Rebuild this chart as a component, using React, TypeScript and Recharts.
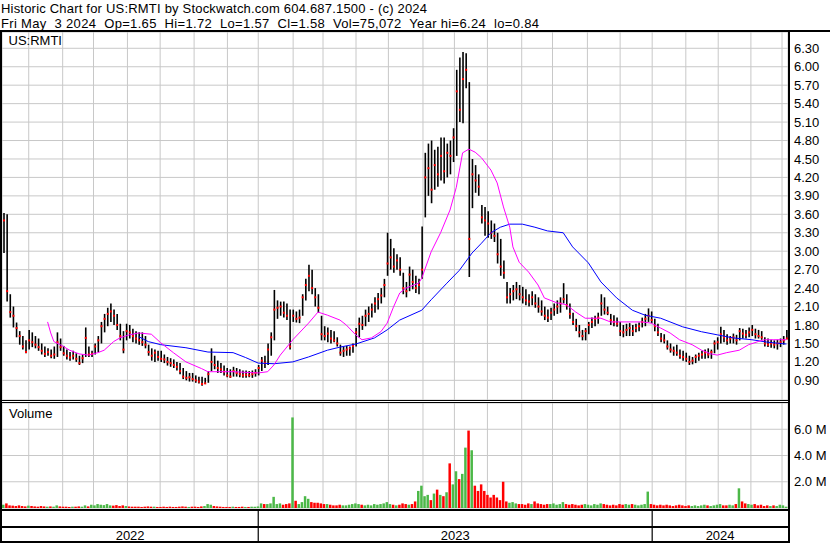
import React from "react";
import {
	ComposedChart,
	Bar,
	Line,
	XAxis,
	YAxis,
	CartesianGrid,
	Cell,
} from "recharts";

// one row = two trading days, May 2022 .. May 3 2024
const high = [
	3.62, 3.6, 2.3, 2.1, 1.84, 1.7, 1.62, 1.55, 1.72, 1.68,
	1.62, 1.58, 1.5, 1.45, 1.42, 1.4, 1.45, 1.68, 1.58, 1.46,
	1.4, 1.36, 1.38, 1.34, 1.3, 1.32, 1.76, 1.45, 1.38, 1.5,
	1.62, 1.85, 1.98, 2.08, 2.15, 2.05, 1.98, 1.82, 1.7, 1.82,
	1.8, 1.74, 1.7, 1.68, 1.68, 1.62, 1.48, 1.42, 1.4, 1.38,
	1.38, 1.32, 1.28, 1.26, 1.24, 1.2, 1.18, 1.1, 1.05, 1.02,
	1.02, 0.98, 0.96, 0.96, 0.94, 1.05, 1.42, 1.3, 1.22, 1.18,
	1.14, 1.1, 1.08, 1.12, 1.1, 1.08, 1.06, 1.06, 1.05, 1.06,
	1.08, 1.15, 1.28, 1.3, 1.5, 1.68, 2.37, 2.2, 2.18, 2.18,
	2.15, 2.05, 2.05, 2.02, 2.05, 2.3, 2.55, 2.78, 2.7, 2.4,
	2.3, 1.95, 1.78, 1.76, 1.72, 1.7, 1.6, 1.48, 1.45, 1.46,
	1.45, 1.5, 1.75, 1.92, 1.95, 2.05, 2.1, 2.15, 2.25, 2.32,
	2.4, 2.55, 3.3, 3.2, 3.05, 2.95, 2.9, 2.65, 2.5, 2.75,
	2.7, 2.6, 2.55, 3.4, 4.6, 4.75, 4.8, 4.65, 4.7, 4.85,
	4.85, 4.75, 4.8, 5.0, 5.95, 6.15, 6.24, 6.22, 5.75, 4.5,
	4.4, 4.25, 3.75, 3.72, 3.65, 3.5, 3.45, 3.3, 3.2, 2.85,
	2.5, 2.4, 2.45, 2.5, 2.45, 2.42, 2.38, 2.3, 2.35, 2.3,
	2.25, 2.2, 2.1, 2.05, 2.08, 2.15, 2.2, 2.25, 2.48, 2.3,
	2.15, 2.0, 1.9, 1.8, 1.72, 1.75, 1.85, 1.92, 1.95, 2.0,
	2.3, 2.25, 2.1, 1.98, 1.96, 1.92, 1.85, 1.8, 1.82, 1.83,
	1.8, 1.82, 1.84, 1.92, 1.98, 2.07, 2.02, 1.9, 1.82, 1.67,
	1.65, 1.55, 1.5, 1.45, 1.48, 1.4, 1.38, 1.35, 1.3, 1.28,
	1.32, 1.35, 1.38, 1.4, 1.42, 1.4, 1.55, 1.6, 1.77, 1.72,
	1.65, 1.62, 1.66, 1.64, 1.75, 1.74, 1.72, 1.76, 1.8, 1.74,
	1.72, 1.7, 1.6, 1.58, 1.56, 1.55, 1.56, 1.58, 1.62, 1.72,
];

const low = [
	2.97, 2.18, 1.92, 1.76, 1.6, 1.48, 1.4, 1.34, 1.4, 1.44,
	1.42, 1.38, 1.32, 1.28, 1.3, 1.26, 1.25, 1.28, 1.38, 1.3,
	1.24, 1.22, 1.24, 1.2, 1.15, 1.18, 1.28, 1.28, 1.28, 1.32,
	1.36, 1.5, 1.68, 1.78, 1.85, 1.8, 1.72, 1.55, 1.34, 1.55,
	1.58, 1.52, 1.5, 1.48, 1.46, 1.42, 1.3, 1.22, 1.2, 1.22,
	1.2, 1.18, 1.14, 1.12, 1.1, 1.06, 1.0, 0.92, 0.9, 0.88,
	0.88, 0.86, 0.85, 0.81, 0.84, 0.86, 1.05, 1.08, 1.02, 1.02,
	0.98, 0.95, 0.94, 0.96, 0.96, 0.95, 0.94, 0.94, 0.95, 0.94,
	0.96, 0.98, 1.05, 1.1, 1.15, 1.3, 1.55, 1.9, 1.95, 1.92,
	1.88, 1.4, 1.85, 1.84, 1.83, 1.95, 2.2, 2.35, 2.3, 2.1,
	2.0, 1.55, 1.55, 1.52, 1.5, 1.52, 1.45, 1.3, 1.28, 1.3,
	1.3, 1.35, 1.45, 1.6, 1.72, 1.78, 1.85, 1.92, 2.0, 2.05,
	2.15, 2.25, 2.6, 2.7, 2.65, 2.7, 2.6, 2.3, 2.25, 2.35,
	2.38, 2.32, 2.3, 2.55, 3.55, 3.9, 3.78, 4.0, 4.05, 4.15,
	4.1, 4.2, 4.25, 4.45, 4.55, 5.1, 5.08, 5.65, 2.58, 3.7,
	3.95, 3.9, 3.45, 3.25, 3.22, 3.2, 3.15, 2.8, 2.6, 2.55,
	2.15, 2.15, 2.2, 2.22, 2.2, 2.15, 2.12, 2.1, 2.12, 2.08,
	2.0, 1.95, 1.88, 1.85, 1.88, 1.95, 1.98, 2.0, 2.15, 2.05,
	1.9, 1.8, 1.7, 1.6, 1.55, 1.55, 1.65, 1.75, 1.78, 1.82,
	1.95, 1.97, 1.96, 1.8, 1.78, 1.77, 1.62, 1.6, 1.62, 1.62,
	1.62, 1.68, 1.7, 1.76, 1.78, 1.85, 1.83, 1.7, 1.62, 1.52,
	1.5, 1.4, 1.35, 1.3, 1.3, 1.25, 1.22, 1.2, 1.15, 1.16,
	1.18, 1.22, 1.25, 1.25, 1.26, 1.25, 1.34, 1.4, 1.5, 1.52,
	1.48, 1.5, 1.5, 1.48, 1.55, 1.58, 1.58, 1.6, 1.62, 1.58,
	1.58, 1.56, 1.45, 1.44, 1.43, 1.42, 1.4, 1.44, 1.48, 1.57,
];

const close = [
	3.5, 2.35, 2.01, 1.95, 1.75, 1.62, 1.45, 1.36, 1.55, 1.52,
	1.48, 1.44, 1.38, 1.33, 1.36, 1.3, 1.32, 1.52, 1.44, 1.34,
	1.3, 1.27, 1.3, 1.25, 1.18, 1.26, 1.59, 1.32, 1.33, 1.45,
	1.55, 1.78, 1.9, 1.98, 2.02, 1.95, 1.8, 1.62, 1.4, 1.7,
	1.68, 1.62, 1.58, 1.55, 1.52, 1.48, 1.36, 1.3, 1.35, 1.28,
	1.25, 1.24, 1.2, 1.18, 1.15, 1.12, 1.05, 0.96, 0.94, 0.95,
	0.92, 0.9, 0.88, 0.84, 0.85, 1.0, 1.2, 1.15, 1.1, 1.08,
	1.04, 0.98, 0.96, 1.05, 1.02, 1.0, 0.98, 0.99, 0.98, 1.0,
	1.02, 1.1, 1.22, 1.18, 1.4, 1.6, 2.05, 2.08, 2.1, 2.0,
	1.95, 1.45, 1.95, 1.9, 1.92, 2.25, 2.45, 2.6, 2.4, 2.25,
	2.08, 1.65, 1.62, 1.66, 1.58, 1.55, 1.5, 1.35, 1.38, 1.4,
	1.42, 1.46, 1.68, 1.82, 1.8, 1.95, 1.98, 2.05, 2.15, 2.22,
	2.28, 2.45, 2.8, 2.9, 2.75, 2.85, 2.7, 2.4, 2.35, 2.62,
	2.5, 2.4, 2.45, 2.7, 4.2, 4.35, 4.0, 4.4, 4.25, 4.55,
	4.3, 4.6, 4.55, 4.85, 5.6, 5.3, 5.8, 5.95, 3.2, 4.25,
	4.15, 4.05, 3.55, 3.5, 3.45, 3.3, 3.25, 2.95, 2.75, 2.65,
	2.25, 2.3, 2.35, 2.38, 2.3, 2.25, 2.2, 2.18, 2.25, 2.15,
	2.1, 2.02, 1.95, 1.92, 2.0, 2.05, 2.1, 2.15, 2.22, 2.12,
	1.98, 1.85, 1.78, 1.68, 1.62, 1.7, 1.8, 1.85, 1.9, 1.92,
	2.15, 2.05, 2.0, 1.88, 1.85, 1.82, 1.7, 1.68, 1.72, 1.75,
	1.7, 1.75, 1.78, 1.85, 1.9, 1.95, 1.88, 1.78, 1.68, 1.58,
	1.55, 1.45, 1.4, 1.38, 1.35, 1.3, 1.28, 1.25, 1.2, 1.22,
	1.28, 1.3, 1.32, 1.35, 1.32, 1.36, 1.5, 1.52, 1.65, 1.6,
	1.55, 1.58, 1.6, 1.55, 1.7, 1.66, 1.64, 1.68, 1.72, 1.65,
	1.62, 1.6, 1.5, 1.48, 1.5, 1.48, 1.5, 1.52, 1.55, 1.58,
];

// volume, millions of shares
const volume = [
	0.25, 0.35, 0.2, 0.18, 0.15, 0.2, 0.15, 0.12, 0.18, 0.15,
	0.12, 0.1, 0.15, 0.12, 0.1, 0.12, 0.1, 0.2, 0.12, 0.1,
	0.1, 0.08, 0.1, 0.1, 0.12, 0.1, 0.2, 0.12, 0.25, 0.2,
	0.3, 0.25, 0.22, 0.3, 0.2, 0.18, 0.22, 0.15, 0.2, 0.15,
	0.12, 0.1, 0.1, 0.1, 0.08, 0.1, 0.12, 0.1, 0.1, 0.08,
	0.08, 0.1, 0.08, 0.1, 0.08, 0.08, 0.1, 0.12, 0.1, 0.08,
	0.1, 0.1, 0.08, 0.12, 0.15, 0.3, 0.25, 0.15, 0.12, 0.1,
	0.08, 0.08, 0.08, 0.1, 0.08, 0.08, 0.1, 0.08, 0.08, 0.1,
	0.1, 0.12, 0.35, 0.3, 0.3, 0.35, 0.85, 0.3, 0.35, 0.25,
	0.3, 0.35, 6.9, 0.55, 0.3, 0.45, 0.9, 0.7, 0.45, 0.4,
	0.4, 0.35, 0.3, 0.3, 0.25, 0.2, 0.2, 0.25, 0.2, 0.2,
	0.25, 0.3, 0.35, 0.3, 0.25, 0.2, 0.25, 0.2, 0.3, 0.25,
	0.3, 0.35, 0.45, 0.3, 0.25, 0.2, 0.25, 0.35, 0.3, 0.25,
	0.3, 0.5, 1.3, 1.7, 0.9, 1.0, 0.6, 1.1, 1.4, 1.0,
	0.9, 1.2, 3.4, 1.8, 2.8, 2.2, 2.6, 4.6, 5.9, 4.4,
	1.7, 1.3, 1.8, 1.3, 1.0, 0.8, 1.0, 0.8, 0.6, 2.0,
	0.5, 0.4, 0.45, 0.35, 0.3, 0.3, 0.25, 0.35, 0.3, 0.5,
	0.35, 0.3, 0.25, 0.3, 0.3, 0.35, 0.25, 0.3, 0.45, 0.3,
	0.25, 0.3, 0.25, 0.2, 0.25, 0.3, 0.25, 0.2, 0.3, 0.25,
	0.35, 0.3, 0.25, 0.2, 0.25, 0.2, 0.3, 0.25, 0.3, 0.25,
	0.3, 0.25, 0.2, 0.25, 0.3, 1.25, 0.3, 0.25, 0.2, 0.25,
	0.2, 0.25, 0.2, 0.15, 0.2, 0.25, 0.2, 0.15, 0.2, 0.15,
	0.2, 0.15, 0.2, 0.25, 0.2, 0.15, 0.2, 0.25, 0.3, 0.2,
	0.2, 0.25, 0.2, 0.3, 1.5, 0.5, 0.35, 0.3, 0.25, 0.3,
	0.2, 0.25, 0.15, 0.2, 0.15, 0.2, 0.15, 0.25, 0.2, 0.1,
];

// moving averages (row, value)
const fastRows = [
	14, 15, 16, 18, 21, 24, 27, 30, 32, 35, 37, 40, 43, 47, 50, 54, 58, 63, 65, 73,
	81, 84, 86, 88, 92, 97, 100, 103, 107, 109, 112, 114, 117, 120, 122, 124, 126, 128, 132, 133,
	136, 139, 142, 144, 146, 148, 150, 152, 155, 157, 159, 161, 162, 164, 167, 170, 172, 176, 179, 182,
	185, 190, 193, 198, 203, 206, 209, 212, 215, 219, 222, 225, 227, 230, 234, 237, 240, 242, 245, 249,
];
const fastVals = [
	1.85, 1.67, 1.53, 1.48, 1.39, 1.33, 1.31, 1.35, 1.39, 1.53, 1.59, 1.64, 1.67, 1.65, 1.51, 1.35, 1.2, 1.09, 1.04, 1.04,
	1.02, 1.04, 1.15, 1.31, 1.56, 1.83, 2.01, 1.96, 1.88, 1.8, 1.64, 1.56, 1.59, 1.69, 1.83, 2.09, 2.32, 2.4, 2.48, 2.56,
	2.99, 3.3, 3.67, 4.04, 4.6, 4.66, 4.61, 4.52, 4.32, 4.11, 3.72, 3.39, 3.07, 2.82, 2.66, 2.45, 2.24, 2.16, 2.13, 2.01,
	1.91, 1.91, 1.85, 1.85, 1.85, 1.83, 1.75, 1.67, 1.56, 1.48, 1.39, 1.33, 1.31, 1.35, 1.39, 1.48, 1.53, 1.56, 1.56, 1.56,
];
const slowRows = [
	43, 46, 50, 58, 65, 73, 77, 81, 86, 92, 97, 103, 107, 112, 118, 122, 126, 133, 136, 141, 145, 149,
	152, 155, 158, 161, 165, 169, 173, 178, 181, 186, 190, 195, 200, 204, 209, 216, 222, 227, 232, 238, 243, 249,
];
const slowVals = [
	1.61, 1.53, 1.48, 1.43, 1.36, 1.35, 1.27, 1.18, 1.17, 1.2, 1.28, 1.39, 1.44, 1.49, 1.59, 1.72, 1.88, 2.04, 2.21, 2.48, 2.69, 2.97,
	3.13, 3.3, 3.39, 3.44, 3.44, 3.39, 3.33, 3.3, 3.07, 2.81, 2.5, 2.24, 2.04, 1.96, 1.91, 1.77, 1.69, 1.64, 1.59, 1.56, 1.52, 1.49,
];

const priceTicks = [0.9, 1.2, 1.5, 1.8, 2.1, 2.4, 2.7, 3.0, 3.3, 3.6, 3.9, 4.2, 4.5, 4.8, 5.1, 5.4, 5.7, 6.0, 6.3];
const volumeTicks = [2, 4, 6];
// first row of each month, Jun 2022 .. May 2024
const monthStarts = [
	8, 18.8, 28.6, 39.4, 49.8, 60.6, 71.2, 81, 92.1, 101.6, 112.1, 122.4,
	133.4, 143.4, 153.9, 164.8, 174.6, 185.7, 196.1, 206.3, 217, 227.3, 237.7, 247.6,
];
const years = ["2022", "2023", "2024"];
const yearBounds = [-0.5, 81, 206.3, 249.5];

const FONT = '"Liberation Sans", Arial, sans-serif';
const GRID = "#c8c8c8";
const GREEN = "#4cb848";
const RED = "#ff0000";
const X_DOMAIN = [-0.5, 249.5];

const rows = high.map((h, i) => ({
	i,
	range: [low[i], h],
	hi: h,
	lo: low[i],
	cl: close[i],
	vol: volume[i],
	fast: null as number | null,
	slow: null as number | null,
}));
fastRows.forEach((r, k) => {
	rows[r].fast = fastVals[k];
});
slowRows.forEach((r, k) => {
	rows[r].slow = slowVals[k];
});

const yearMids = years.map((_, k) => (yearBounds[k] + yearBounds[k + 1]) / 2);
const separators = yearBounds.slice(1, -1);
const bottomTicks = [...yearMids, ...separators].sort((a, b) => a - b);

const volColor = (i: number) => {
	if (i === 0 || close[i] > close[i - 1]) return GREEN;
	if (close[i] < close[i - 1]) return RED;
	return "#a0a0a0";
};

const OhlcBar = (props: any) => {
	const { x, y, width, height, payload } = props;
	if (x == null || y == null) return null;
	const top = Math.min(y, y + height);
	const h = Math.max(Math.abs(height), 1);
	const cx = x + width / 2;
	const span = payload.hi - payload.lo;
	const cy = span > 0 ? top + ((payload.hi - payload.cl) / span) * h : top;
	return (
		<g>
			<line x1={cx} x2={cx} y1={top} y2={top + h} stroke="#000" strokeWidth={1.6} />
			<rect x={cx - 1} y={cy - 1} width={2} height={2} fill={RED} />
		</g>
	);
};

const YearTick = (props: any) => {
	const { x, y, payload } = props;
	const v = payload.value;
	if (separators.includes(v)) {
		return <line x1={x} x2={x} y1={y + 2} y2={y + 35} stroke="#000" strokeWidth={1.2} />;
	}
	const k = yearMids.indexOf(v);
	return (
		<text x={x} y={y + 32} textAnchor="middle" fontSize={13} fontFamily={FONT} fill="#000">
			{years[k]}
		</text>
	);
};

const tickStyle = { fontSize: 13, fill: "#000", fontFamily: FONT };

const App = () => {
	return (
		<div
			style={{
				position: "absolute",
				left: 0,
				top: 0,
				width: 830,
				height: 543,
				background: "#fff",
				overflow: "hidden",
				fontFamily: FONT,
			}}
		>
			<div style={{ position: "absolute", left: 0, top: 0 }}>
				<ComposedChart
					width={830}
					height={400}
					data={rows}
					margin={{ top: 32, right: 0, bottom: 0, left: 2 }}
				>
					<CartesianGrid stroke={GRID} />
					<XAxis
						dataKey="i"
						type="number"
						domain={X_DOMAIN}
						allowDataOverflow
						ticks={monthStarts}
						interval={0}
						hide
					/>
					<YAxis
						orientation="right"
						type="number"
						domain={[0.58, 6.565]}
						allowDataOverflow
						ticks={priceTicks}
						interval={0}
						width={42}
						axisLine={false}
						tickLine={false}
						tickSize={0}
						tickMargin={6}
						tick={tickStyle}
						tickFormatter={(v: number) => v.toFixed(2)}
					/>
					<Bar dataKey="range" barSize={2} shape={<OhlcBar />} isAnimationActive={false} />
					<Line
						type="linear"
						dataKey="slow"
						stroke="#0000ff"
						strokeWidth={1}
						dot={false}
						connectNulls
						isAnimationActive={false}
					/>
					<Line
						type="linear"
						dataKey="fast"
						stroke="#ff00ff"
						strokeWidth={1}
						dot={false}
						connectNulls
						isAnimationActive={false}
					/>
				</ComposedChart>
			</div>

			<div style={{ position: "absolute", left: 0, top: 403 }}>
				<ComposedChart
					width={830}
					height={140}
					data={rows}
					margin={{ top: 0, right: 0, bottom: 0, left: 2 }}
				>
					<CartesianGrid stroke={GRID} xAxisId="m" />
					<XAxis
						xAxisId="m"
						dataKey="i"
						type="number"
						domain={X_DOMAIN}
						allowDataOverflow
						ticks={monthStarts}
						interval={0}
						hide
					/>
					<XAxis
						dataKey="i"
						type="number"
						domain={X_DOMAIN}
						allowDataOverflow
						ticks={bottomTicks}
						interval={0}
						height={35}
						axisLine={false}
						tickLine={false}
						tickSize={0}
						tickMargin={0}
						tick={<YearTick />}
					/>
					<YAxis
						orientation="right"
						type="number"
						domain={[0, 8]}
						allowDataOverflow
						ticks={volumeTicks}
						interval={0}
						width={42}
						axisLine={false}
						tickLine={false}
						tickSize={0}
						tickMargin={6}
						tick={tickStyle}
						tickFormatter={(v: number) => `${v.toFixed(1)} M`}
					/>
					<Bar dataKey="vol" barSize={2.5} isAnimationActive={false}>
						{rows.map((r) => (
							<Cell key={r.i} fill={volColor(r.i)} />
						))}
					</Bar>
				</ComposedChart>
			</div>

			<svg
				width={830}
				height={543}
				style={{ position: "absolute", left: 0, top: 0, pointerEvents: "none" }}
			>
				<text
					x={1}
					y={12.5}
					fontSize={13}
					fontFamily={FONT}
					fill="#000"
					textLength={426}
					lengthAdjust="spacing"
					style={{ whiteSpace: "pre" }}
				>
					Historic Chart for US:RMTI by Stockwatch.com 604.687.1500 - (c) 2024
				</text>
				<text
					x={1}
					y={27.5}
					fontSize={13}
					fontFamily={FONT}
					fill="#000"
					textLength={538}
					lengthAdjust="spacing"
					style={{ whiteSpace: "pre" }}
				>
					{"Fri May  3 2024  Op=1.65  Hi=1.72  Lo=1.57  Cl=1.58  Vol=75,072  Year hi=6.24  lo=0.84"}
				</text>
				<text x={8.5} y={45} fontSize={13} fontFamily={FONT} fill="#000">
					US:RMTI
				</text>
				<text x={9} y={418} fontSize={13} fontFamily={FONT} fill="#000">
					Volume
				</text>
				<rect x={0} y={30} width={830} height={2} fill="#000" />
				<rect x={0} y={30} width={2} height={513} fill="#000" />
				<rect x={788} y={30} width={2} height={513} fill="#000" />
				<rect x={0} y={400} width={790} height={1} fill="#000" />
				<rect x={0} y={402} width={790} height={1} fill="#000" />
				<rect x={0} y={509} width={790} height={2} fill="#000" />
				<rect x={0} y={526} width={790} height={2} fill="#000" />
				<rect x={0} y={541} width={790} height={2} fill="#000" />
			</svg>
		</div>
	);
};

export default App;
